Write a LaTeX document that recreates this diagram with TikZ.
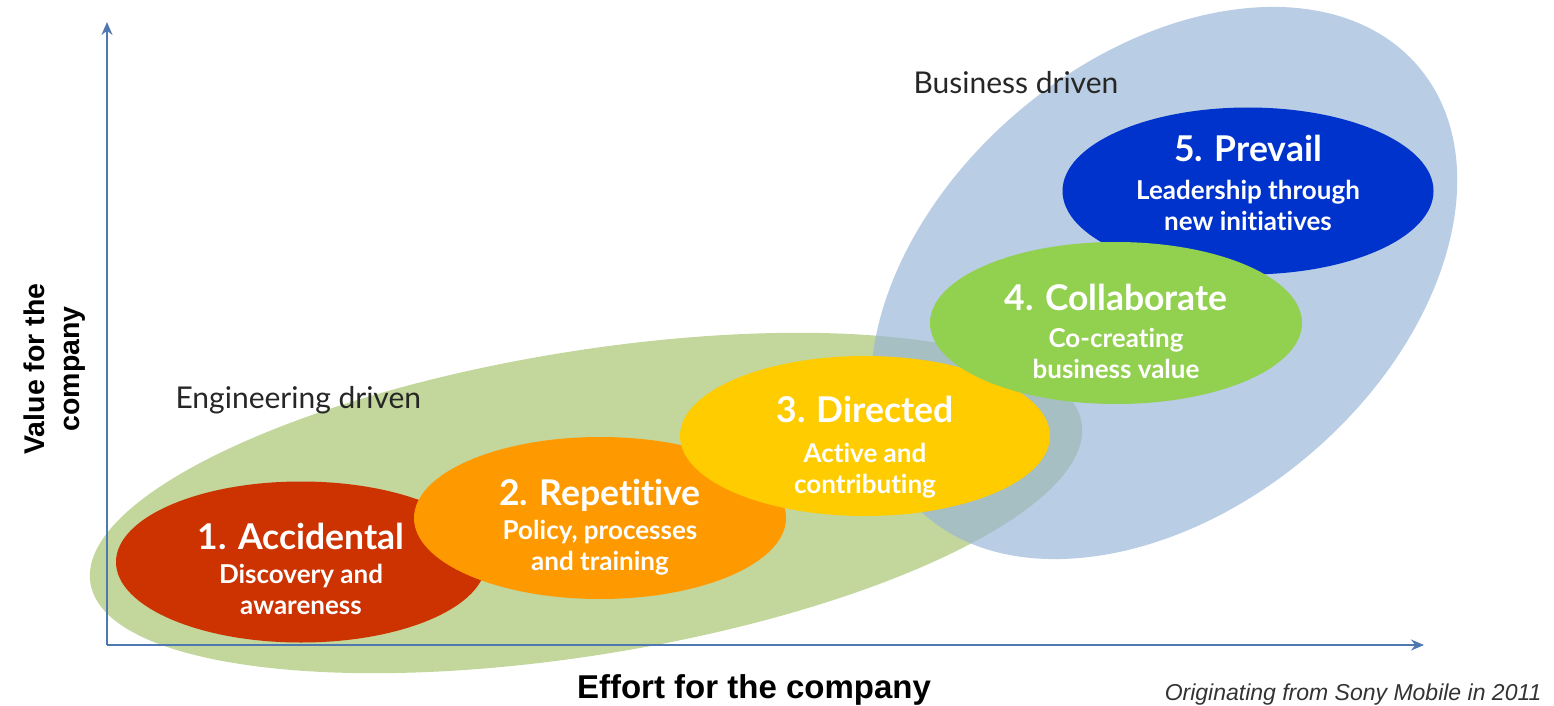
\documentclass[tikz,border=0pt]{standalone}
\usepackage{fontspec}
\setmainfont{Lato}
\newfontfamily\labfont{Lato}[Ligatures=NoCommon]
\newfontfamily\axfont{Liberation Sans}
\usetikzlibrary{shapes.geometric,arrows.meta}
\definecolor{engc}{HTML}{C3D69B}
\definecolor{busc}{HTML}{97B4D8}
\definecolor{axc}{HTML}{4F77B0}
\definecolor{c1}{HTML}{CC3300}
\definecolor{c2}{HTML}{FF9900}
\definecolor{c3}{HTML}{FFCC00}
\definecolor{c4}{HTML}{92D050}
\definecolor{c5}{HTML}{0033CC}
\tikzset{
  stage/.style={ellipse, inner sep=0pt, minimum width=372pt, minimum height=162pt},
  ttl/.style={anchor=base, text=white, font=\labfont\bfseries\fontsize{35.5}{40}\selectfont},
  sub/.style={anchor=base, text=white, align=center, font=\labfont\bfseries\fontsize{26}{30.5}\selectfont},
  grp/.style={anchor=base west, text=black!85, font=\labfont\fontsize{30}{34}\selectfont},
  axis/.style={axc, line width=1.6pt, -{Stealth[length=13pt,width=11pt]}},
}
\begin{document}
\begin{tikzpicture}[x=1pt,y=-1pt]
\useasboundingbox (0,0) rectangle (1554,706);
% background groups
\node[ellipse, inner sep=0pt, fill=engc, minimum width=1004pt, minimum height=304pt, rotate=9.2] (eng) at (586,503) {};
\node[ellipse, inner sep=0pt, fill=busc, fill opacity=0.67, minimum width=668pt, minimum height=450pt, rotate=40.4] (bus) at (1164,283) {};
% axes
\coordinate (o) at (107,645);
\coordinate (ytop) at (107,22);
\coordinate (xend) at (1424,645);
\draw[axis] (o) -- (ytop);
\draw[axis] (o) -- (xend);
% stages
\node[stage, fill=c1, minimum width=370pt, minimum height=161pt] (e1) at (301,562) {};
\node[stage, fill=c2] (e2) at (600,518) {};
\node[stage, fill=c3, minimum width=370pt, minimum height=160pt] (e3) at (865,436) {};
\node[stage, fill=c5, minimum width=371pt, minimum height=167pt] (e5) at (1248,191) {};
\node[stage, fill=c4] (e4) at (1116,323) {};
% texts
\node[ttl] (t1) at (301,549) {1. Accidental};
\node[sub] (s1) at (301,614) {Discovery and\\awareness};
\node[ttl] (t2) at (600,505) {2. Repetitive};
\node[sub] (s2) at (600,570) {Policy, processes\\and training};
\node[ttl] (t3) at (865,422) {3. Directed};
\node[sub] (s3) at (865,493) {Active and\\contributing};
\node[ttl] (t4) at (1116,310) {4. Collaborate};
\node[sub] (s4) at (1116,378) {Co-creating\\business value};
\node[ttl] (t5) at (1248,161) {5. Prevail};
\node[sub] (s5) at (1248,230) {Leadership through\\new initiatives};
% group labels
\node[grp] (lg1) at (172,408) {Engineering driven};
\node[grp] (lg2) at (910,94) {Business driven};
% axis labels
\node[rotate=90, align=center, font=\axfont\bfseries\fontsize{28.5}{35}\selectfont] (ylab) at (55,369) {Value for the\\company};
\node[anchor=base, font=\axfont\bfseries\fontsize{33}{38}\selectfont] (xlab) at (754,698) {Effort for the company};
\node[anchor=base east, text=black!80, font=\axfont\itshape\fontsize{23}{27}\selectfont] (src) at (1545,700) {Originating from Sony Mobile in 2011};
\end{tikzpicture}
\end{document}
